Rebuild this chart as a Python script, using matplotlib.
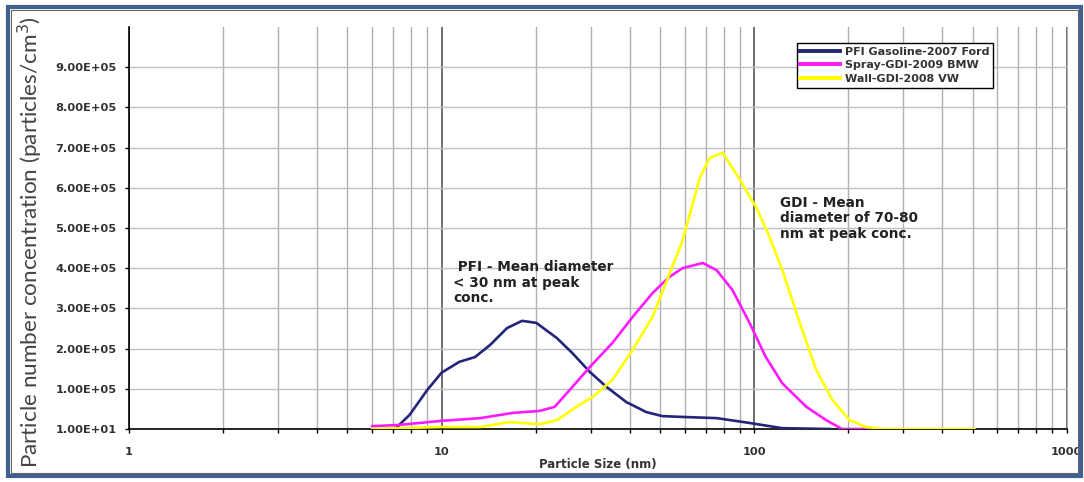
import matplotlib.pyplot as plt
from matplotlib.patches import Rectangle
from matplotlib.ticker import FixedLocator, NullFormatter

# particle size (nm) and concentration (particles/cm3)
pfi_size = [7.1, 7.9, 9.0, 10.0, 11.4, 12.8, 14.3, 16.2, 18.1, 20.1, 23.4, 26.2,
            29.8, 33.8, 39.0, 45.2, 50.9, 59.0, 75.9, 96.7, 123, 175]
pfi_conc = [10, 0.35e5, 0.97e5, 1.40e5, 1.67e5, 1.79e5, 2.09e5, 2.51e5, 2.69e5,
            2.64e5, 2.26e5, 1.89e5, 1.42e5, 1.04e5, 0.67e5, 0.42e5, 0.32e5,
            0.30e5, 0.27e5, 0.15e5, 0.02e5, 10]

bmw_size = [6.0, 7.3, 9.9, 13.3, 16.9, 20.6, 23.0, 25.7, 29.8, 35.2, 40.9, 47.3,
            53.5, 59.0, 68.5, 75.9, 85.2, 96.7, 109, 123, 147, 170, 191, 232]
bmw_conc = [0.07e5, 0.10e5, 0.20e5, 0.27e5, 0.40e5, 0.45e5, 0.55e5, 0.97e5,
            1.54e5, 2.14e5, 2.79e5, 3.38e5, 3.78e5, 4.00e5, 4.13e5, 3.95e5,
            3.46e5, 2.64e5, 1.79e5, 1.14e5, 0.55e5, 0.22e5, 10, 10]

vw_size = [6.0, 9.9, 13.3, 16.5, 20.6, 23.4, 27.0, 30.5, 35.2, 40.9, 47.3, 52.5,
           59.0, 67.0, 72.0, 79.3, 87.8, 101.8, 112, 123, 140, 158, 178, 202,
           228, 258, 507]
vw_conc = [10, 0.05e5, 0.05e5, 0.17e5, 0.12e5, 0.22e5, 0.55e5, 0.80e5, 1.22e5,
           1.97e5, 2.79e5, 3.68e5, 4.68e5, 6.24e5, 6.74e5, 6.87e5, 6.34e5,
           5.50e5, 4.78e5, 3.96e5, 2.64e5, 1.47e5, 0.72e5, 0.22e5, 0.05e5, 10, 10]

y_ticks = [10, 1e5, 2e5, 3e5, 4e5, 5e5, 6e5, 7e5, 8e5, 9e5]
x_ticks = [1, 10, 100, 1000]

fig = plt.figure(figsize=(10.84, 4.82), dpi=100)
ax = fig.add_axes([0.119, 0.110, 0.865, 0.834])

ax.plot(pfi_size, pfi_conc, color='#23247a', lw=1.9, label='PFI Gasoline-2007 Ford', zorder=3)
ax.plot(bmw_size, bmw_conc, color='#ff1aff', lw=1.9, label='Spray-GDI-2009 BMW', zorder=3)
ax.plot(vw_size, vw_conc, color='#ffff00', lw=1.9, label='Wall-GDI-2008 VW', zorder=3)

ax.set_xscale('log')
ax.set_xlim(1, 1000)
ax.set_ylim(10, 1e6)

ax.xaxis.set_major_locator(FixedLocator(x_ticks))
ax.set_xticklabels([str(v) for v in x_ticks])
ax.xaxis.set_minor_formatter(NullFormatter())
ax.set_yticks(y_ticks)
ax.set_yticklabels(['%.2E' % v for v in y_ticks])

ax.grid(axis='y', color='#c0c0c0', lw=1)
ax.grid(axis='x', which='minor', color='#b0b0b0', lw=1)
ax.grid(axis='x', which='major', color='#555555', lw=1.2)
ax.set_axisbelow(True)

ax.tick_params(axis='both', which='both', direction='out', length=3, width=1, color='black',
               labelcolor='#333333', labelsize=8.2)
ax.tick_params(axis='x', pad=10)
ax.tick_params(axis='y', pad=6)
for lab in ax.get_xticklabels() + ax.get_yticklabels():
    lab.set_fontweight('bold')

ax.spines['top'].set_visible(False)
ax.spines['right'].set_color('#b0b0b0')
ax.spines['left'].set_linewidth(1.2)
ax.spines['bottom'].set_linewidth(1.2)

ax.set_xlabel('Particle Size (nm)', fontsize=8.5, fontweight='bold', color='#333333', labelpad=1)
fig.text(0.028, 0.497, 'Particle number concentration (particles/cm$^3$)', rotation=90,
         ha='center', va='center', fontsize=16.2, family='Lato', color='#444444')

ax.text(10.9, 4.2e5, ' PFI - Mean diameter\n< 30 nm at peak\nconc.', fontsize=9.8,
        fontweight='bold', color='#222222', va='top', ha='left', linespacing=1.15)
ax.text(121, 5.8e5, 'GDI - Mean\ndiameter of 70-80\nnm at peak conc.', fontsize=9.8,
        fontweight='bold', color='#222222', va='top', ha='left', linespacing=1.15)

leg = ax.legend(loc='upper left', bbox_to_anchor=(0.712, 0.960), borderaxespad=0,
                fancybox=False, framealpha=1, edgecolor='black', handlelength=3.6,
                prop={'size': 8, 'weight': 'bold'}, labelspacing=0.3, borderpad=0.35,
                handletextpad=0.4)
leg.get_frame().set_linewidth(1)
for line in leg.get_lines():
    line.set_linewidth(2.8)
for t in leg.get_texts():
    t.set_color('#333333')

fig.patches.append(Rectangle((8 / 1084, 6 / 482), 1073 / 1084, 469 / 482, transform=fig.transFigure,
                             fill=False, edgecolor='#3f6090', lw=3, zorder=10))
fig.patches.append(Rectangle((11 / 1084, 9 / 482), 1067 / 1084, 463 / 482, transform=fig.transFigure,
                             fill=False, edgecolor='#666666', lw=0.8, zorder=10))

fig.savefig('out.png', dpi=100)
